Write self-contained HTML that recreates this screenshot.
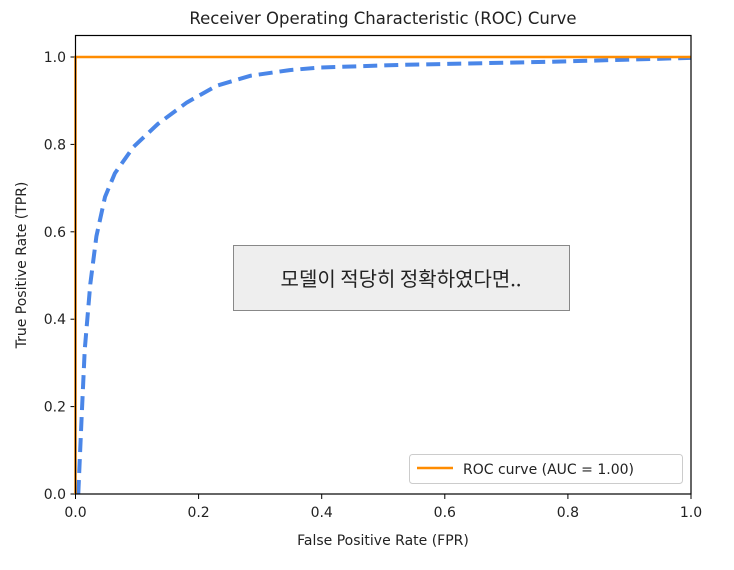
<!DOCTYPE html>
<html><head><meta charset="utf-8"><style>
body{margin:0;background:#fff;}
svg text{font-family:"DejaVu Sans","Liberation Sans","Noto Sans CJK KR",sans-serif;fill:#222;}
</style></head><body>
<svg width="734" height="565" xmlns="http://www.w3.org/2000/svg">
<text x="383" y="24" font-size="16.5" text-anchor="middle">Receiver Operating Characteristic (ROC) Curve</text>
<g id="ticks"></g>
<polyline id="dash" fill="none" stroke="#4a86e8" stroke-width="4" stroke-dasharray="14,7" stroke-linejoin="round"/>
<polyline id="roc" fill="none" stroke="#ff8c00" stroke-width="2.5"/>
<rect x="75.5" y="35.5" width="615.5" height="458.5" fill="none" stroke="#000" stroke-width="1.2"/>
<text x="383" y="545" font-size="14" text-anchor="middle">False Positive Rate (FPR)</text>
<text transform="translate(26,265) rotate(-90)" font-size="14" text-anchor="middle">True Positive Rate (TPR)</text>
<rect x="233.5" y="245.5" width="336" height="65" fill="#eeeeee" stroke="#888" stroke-width="1"/>
<text x="401" y="286" font-size="20" text-anchor="middle" style="font-family:'Noto Sans CJK KR',sans-serif">모델이 적당히 정확하였다면..</text>
<g>
<rect x="409.5" y="454.5" width="273" height="29" rx="3" fill="#fff" stroke="#ccc"/>
<line x1="417" y1="468" x2="453" y2="468" stroke="#ff8c00" stroke-width="2.5"/>
<text x="463" y="474" font-size="14">ROC curve (AUC = 1.00)</text>
</g>
</svg>
<script>
const xTicks=[0,0.2,0.4,0.6,0.8,1.0];
const yTicks=[0,0.2,0.4,0.6,0.8,1.0];
const fprModel=[0.0045,0.010,0.015,0.024,0.034,0.048,0.064,0.094,0.134,0.181,0.229,0.284,0.348,0.397,0.53,0.77,1.0];
const tprModel=[0,0.177,0.33,0.48,0.59,0.68,0.734,0.794,0.847,0.896,0.934,0.957,0.97,0.976,0.982,0.989,0.998];
const fprPerfect=[0,0,1];
const tprPerfect=[0,1,1];
const X=v=>75.5+v*615.5, Y=v=>494-v*437;
const NS="http://www.w3.org/2000/svg";
const g=document.getElementById('ticks');
function mk(t,a){const e=document.createElementNS(NS,t);for(const k in a)e.setAttribute(k,a[k]);g.appendChild(e);return e;}
xTicks.forEach(v=>{
 const l=mk('line',{x1:X(v),x2:X(v),y1:494,y2:499,stroke:'#000'});
 
 
 const t=mk('text',{x:X(v),y:517,'font-size':14,'text-anchor':'middle'});t.textContent=v.toFixed(1);
 
 
});
yTicks.forEach(v=>{
 const l=mk('line',{x1:70.5,x2:75.5,y1:Y(v),y2:Y(v),stroke:'#000'});
 
 
 const t=mk('text',{x:66,y:Y(v)+5,'font-size':14,'text-anchor':'end'});t.textContent=v.toFixed(1);
 
 
});
document.getElementById('dash').setAttribute('points',fprModel.map((f,i)=>X(f)+','+Y(tprModel[i])).join(' '));
document.getElementById('roc').setAttribute('points',fprPerfect.map((f,i)=>X(f)+','+Y(tprPerfect[i])).join(' '));
</script>
</body></html>
